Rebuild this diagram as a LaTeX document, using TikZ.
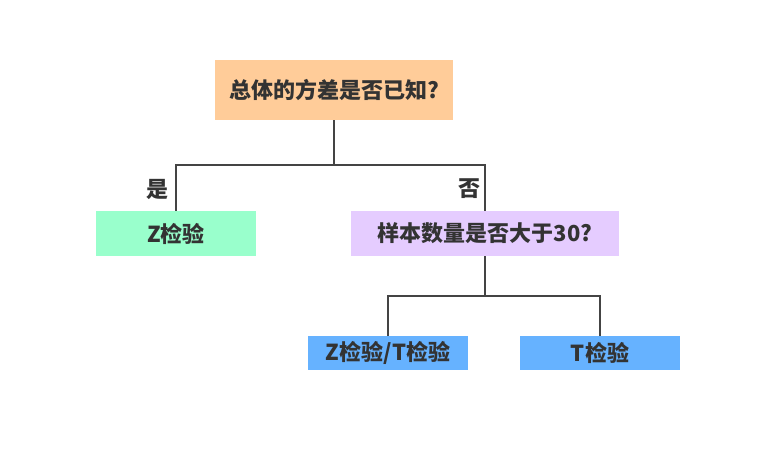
\documentclass[tikz,border=0pt]{standalone}
\usepackage{fontspec}
\setmainfont{Noto Sans CJK SC}
\definecolor{txt}{HTML}{333333}
\definecolor{ln}{HTML}{444444}
\definecolor{c1}{HTML}{FFCC99}
\definecolor{c2}{HTML}{99FFCC}
\definecolor{c3}{HTML}{E5CCFF}
\definecolor{c4}{HTML}{66B2FF}
\begin{document}
\begin{tikzpicture}[x=1bp,y=-1bp,
  box/.style={draw=none,inner sep=0,text=txt,font=\fontsize{22bp}{26bp}\selectfont\bfseries},
  lab/.style={inner sep=0,text=txt,font=\fontsize{22bp}{26bp}\selectfont\bfseries},
  conn/.style={draw=ln,line width=1.4bp}]
\useasboundingbox[fill=white] (0,0) rectangle (762,459);
\node[box,fill=c1,minimum width=238bp,minimum height=60bp] (top) at (334,90) {总体的方差是否已知?};
\node[box,fill=c2,minimum width=160bp,minimum height=45bp] (z) at (176,233.5) {Z检验};
\node[box,fill=c3,minimum width=268bp,minimum height=45bp] (q) at (485,233.5) {样本数量是否大于30?};
\node[box,fill=c4,minimum width=160bp,minimum height=34bp] (zt) at (388,353) {Z检验/T检验};
\node[box,fill=c4,minimum width=160bp,minimum height=34bp] (t) at (600,353) {T检验};
\coordinate (j1) at (334,165);
\coordinate (j2) at (485,296);
\draw[conn] (top.south) -- (j1) -| (z.north);
\draw[conn] (j1) -| (q.north);
\draw[conn] (q.south) -- (j2) -| (zt.north);
\draw[conn] (j2) -| (t.north);
\node[lab,anchor=east] (yes) at (169,189) {是};
\node[lab,anchor=east] (no) at (481,189) {否};
\end{tikzpicture}
\end{document}
